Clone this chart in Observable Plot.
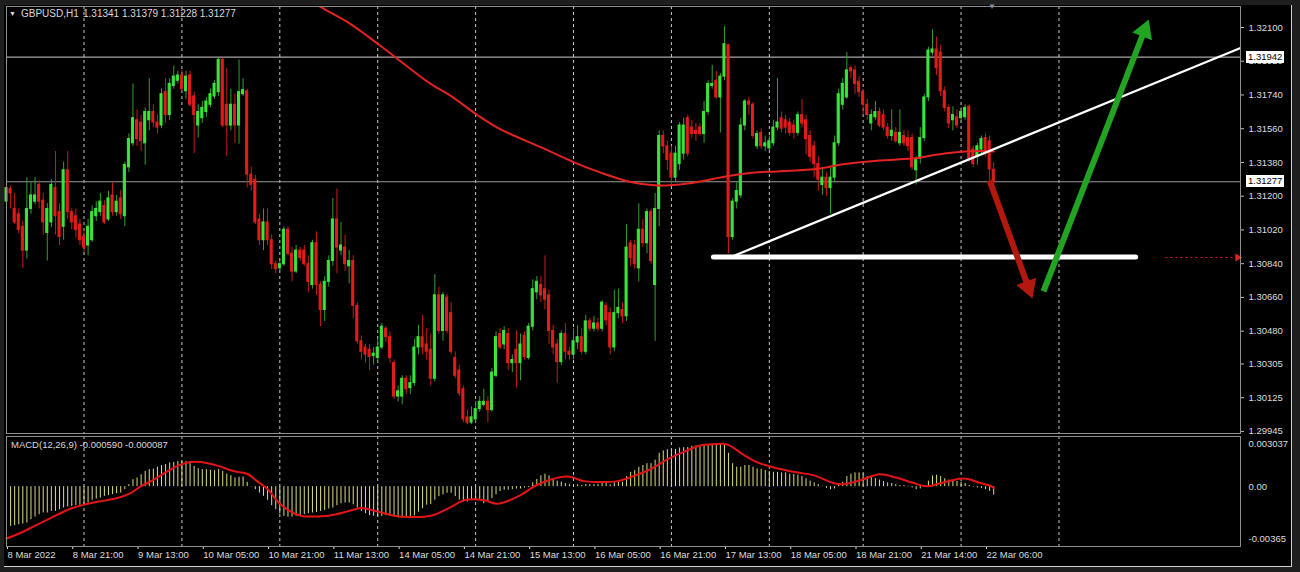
<!DOCTYPE html>
<html><head><meta charset="utf-8">
<script src="https://cdn.jsdelivr.net/npm/d3@7"></script>
<script src="https://cdn.jsdelivr.net/npm/@observablehq/plot@0.6"></script>
<style>
html,body{margin:0;padding:0;background:#1e1e1e;}
#wrap{position:relative;width:1300px;height:572px;background:#1e1e1e;overflow:hidden;font-family:"Liberation Sans",Arial,sans-serif;}
#bg{position:absolute;left:4px;top:5px;width:1287px;height:561px;background:#000;border-right:1px solid #cfcfcf;border-bottom:1px solid #cfcfcf;}
.svgbox{position:absolute;left:0;}
.lbl{position:absolute;color:#dadada;font-size:10px;white-space:pre;line-height:10px;}
.box{position:absolute;background:#fff;color:#000;font-size:9.5px;line-height:12px;height:12px;padding:0 2px;white-space:pre;}
</style></head>
<body>
<div id="wrap"><div id="bg"></div></div>
<script>
// ---------- DATA (GBPUSD H1, bars from 8 Mar 2022 05:00) ----------
const openP = [
1.31171,1.31238,1.31132,1.31104,1.31037,1.30910,1.31132,1.31171,1.31260,1.31176,
1.31004,1.31060,1.31243,1.31115,1.31037,1.31338,1.31115,1.31093,1.31049,1.30982,
1.30937,1.30965,1.31093,1.31115,1.31149,1.31076,1.31204,1.31115,1.31188,1.31093,
1.31354,1.31482,1.31605,1.31593,1.31482,1.31605,1.31649,1.31593,1.31577,1.31755,
1.31633,1.31788,1.31816,1.31844,1.31760,1.31844,1.31732,1.31577,1.31616,1.31649,
1.31688,1.31732,1.31755,1.31927,1.31688,1.31577,1.31688,1.31577,1.31744,1.31760,
1.31315,1.31288,1.31076,1.30965,1.31060,1.30965,1.30837,1.30815,1.30837,1.31021,
1.30893,1.30798,1.30910,1.30910,1.30837,1.30726,1.30949,1.30726,1.30593,1.30743,
1.30854,1.31076,1.30910,1.30926,1.30826,1.30854,1.30615,1.30426,1.30393,1.30381,
1.30348,1.30337,1.30393,1.30493,1.30448,1.30309,1.30131,1.30131,1.30226,1.30176,
1.30203,1.30393,1.30448,1.30409,1.30381,1.30226,1.30671,1.30481,1.30659,1.30576,
1.30337,1.30270,1.30170,1.30020,1.29992,1.30009,1.30064,1.30087,1.30103,1.30059,
1.30242,1.30465,1.30409,1.30465,1.30309,1.30381,1.30309,1.30454,1.30337,1.30504,
1.30687,1.30726,1.30704,1.30671,1.30481,1.30409,1.30315,1.30465,1.30370,1.30354,
1.30420,1.30448,1.30370,1.30532,1.30493,1.30521,1.30493,1.30615,1.30576,1.30393,
1.30576,1.30593,1.30559,1.30949,1.30937,1.30815,1.31021,1.30949,1.31115,1.30726,
1.31132,1.31521,1.31466,1.31427,1.31299,1.31371,1.31427,1.31616,1.31566,1.31549,
1.31566,1.31532,1.31649,1.31788,1.31816,1.31727,1.31838,1.32005,1.30982,1.31171,
1.31204,1.31577,1.31705,1.31688,1.31466,1.31538,1.31466,1.31455,1.31482,1.31566,
1.31616,1.31605,1.31593,1.31577,1.31538,1.31632,1.31605,1.31521,1.31466,1.31371,
1.31260,1.31299,1.31243,1.31299,1.31482,1.31688,1.31727,1.31883,1.31871,1.31810,
1.31755,1.31688,1.31588,1.31621,1.31649,1.31632,1.31566,1.31521,1.31538,1.31482,
1.31521,1.31510,1.31510,1.31338,1.31399,1.31510,1.31727,1.31966,1.31983,1.31966,
1.31760,1.31671,1.31605,1.31621,1.31616,1.31621,1.31677,1.31449,1.31410,1.31449,
1.31510,1.31493,1.31341];
const highP = [
1.31271,1.31254,1.31215,1.31132,1.31065,1.31299,1.31271,1.31299,1.31282,1.31215,
1.31160,1.31288,1.31438,1.31160,1.31382,1.31438,1.31132,1.31132,1.31076,1.31021,
1.31076,1.31149,1.31171,1.31215,1.31176,1.31227,1.31271,1.31204,1.31232,1.31382,
1.31532,1.31799,1.31660,1.31632,1.31671,1.31827,1.31688,1.31632,1.31772,1.31827,
1.31827,1.31894,1.31866,1.31871,1.31866,1.31866,1.31755,1.31688,1.31705,1.31727,
1.31772,1.31816,1.31938,1.31938,1.31883,1.31771,1.31744,1.31927,1.31827,1.31771,
1.31354,1.31310,1.31104,1.31132,1.31132,1.30993,1.30854,1.30854,1.31037,1.31037,
1.30926,1.30937,1.30926,1.30937,1.30882,1.30965,1.31010,1.30743,1.30771,1.30882,
1.31188,1.31238,1.31060,1.30993,1.30910,1.30882,1.30632,1.30454,1.30410,1.30410,
1.30393,1.30437,1.30521,1.30504,1.30476,1.30326,1.30187,1.30242,1.30242,1.30242,
1.30437,1.30510,1.30565,1.30493,1.30465,1.30782,1.30715,1.30687,1.30676,1.30632,
1.30370,1.30298,1.30187,1.30059,1.30076,1.30103,1.30131,1.30170,1.30131,1.30281,
1.30476,1.30493,1.30504,1.30493,1.30354,1.30481,1.30465,1.30476,1.30521,1.30754,
1.30771,1.30771,1.30882,1.30698,1.30510,1.30437,1.30481,1.30521,1.30393,1.30493,
1.30510,1.30493,1.30565,1.30548,1.30559,1.30548,1.30643,1.30632,1.30604,1.30698,
1.30704,1.30632,1.31049,1.30965,1.30965,1.31160,1.31076,1.31132,1.31132,1.31215,
1.31549,1.31549,1.31493,1.31466,1.31466,1.31593,1.31616,1.31632,1.31605,1.31588,
1.31588,1.31705,1.31816,1.31899,1.31866,1.31855,1.32105,1.32011,1.31188,1.31271,
1.31616,1.31716,1.31727,1.31699,1.31549,1.31560,1.31521,1.31521,1.31605,1.31827,
1.31649,1.31632,1.31616,1.31605,1.31649,1.31716,1.31632,1.31549,1.31493,1.31410,
1.31354,1.31327,1.31354,1.31521,1.31771,1.31827,1.31966,1.31894,1.31894,1.31838,
1.31771,1.31716,1.31660,1.31705,1.31671,1.31660,1.31588,1.31660,1.31566,1.31660,
1.31549,1.31549,1.31532,1.31410,1.31566,1.31744,1.31994,1.32088,1.32049,1.32005,
1.31783,1.31688,1.31677,1.31660,1.31671,1.31688,1.31688,1.31466,1.31482,1.31521,
1.31532,1.31521,1.31379];
const lowP = [
1.31160,1.31132,1.31049,1.30999,1.30815,1.30865,1.31104,1.31154,1.31132,1.30993,
1.30854,1.31032,1.30993,1.30937,1.30965,1.31076,1.31021,1.30976,1.30937,1.30898,
1.30882,1.30954,1.31065,1.31093,1.31049,1.31065,1.31093,1.31093,1.31076,1.31037,
1.31327,1.31466,1.31466,1.31438,1.31366,1.31549,1.31566,1.31532,1.31560,1.31588,
1.31605,1.31771,1.31799,1.31755,1.31716,1.31677,1.31427,1.31510,1.31588,1.31621,
1.31671,1.31716,1.31732,1.31566,1.31410,1.31549,1.31482,1.31477,1.31732,1.31243,
1.31227,1.31049,1.30937,1.30910,1.30937,1.30810,1.30787,1.30798,1.30826,1.30882,
1.30743,1.30787,1.30854,1.30826,1.30687,1.30704,1.30671,1.30504,1.30532,1.30715,
1.30826,1.30787,1.30882,1.30798,1.30732,1.30548,1.30410,1.30326,1.30309,1.30270,
1.30299,1.30309,1.30381,1.30420,1.30309,1.30115,1.30103,1.30087,1.30142,1.30142,
1.30187,1.30354,1.30354,1.30326,1.30187,1.30209,1.30465,1.30426,1.30465,1.30354,
1.30226,1.30131,1.29992,1.29981,1.29981,1.29992,1.30048,1.30076,1.29992,1.30048,
1.30231,1.30381,1.30381,1.30270,1.30259,1.30176,1.30215,1.30326,1.30326,1.30481,
1.30648,1.30632,1.30593,1.30409,1.30354,1.30203,1.30298,1.30326,1.30326,1.30326,
1.30381,1.30354,1.30354,1.30476,1.30476,1.30476,1.30476,1.30510,1.30354,1.30370,
1.30548,1.30521,1.30532,1.30826,1.30810,1.30743,1.30926,1.30893,1.30837,1.30426,
1.31037,1.31427,1.31338,1.31260,1.31271,1.31338,1.31393,1.31410,1.31510,1.31493,
1.31521,1.31482,1.31633,1.31771,1.31716,1.31538,1.31816,1.30893,1.30965,1.31132,
1.31188,1.31549,1.31633,1.31505,1.31449,1.31449,1.31438,1.31443,1.31466,1.31549,
1.31538,1.31532,1.31521,1.31505,1.31521,1.31566,1.31421,1.31382,1.31299,1.31227,
1.31204,1.31199,1.31104,1.31271,1.31466,1.31660,1.31716,1.31827,1.31744,1.31727,
1.31633,1.31605,1.31549,1.31605,1.31566,1.31549,1.31505,1.31493,1.31482,1.31466,
1.31466,1.31438,1.31338,1.31260,1.31371,1.31493,1.31705,1.31949,1.31844,1.31732,
1.31649,1.31560,1.31549,1.31560,1.31593,1.31605,1.31382,1.31354,1.31366,1.31427,
1.31410,1.31243,1.31228];
const closeP = [
1.31243,1.31215,1.31060,1.31021,1.30910,1.31132,1.31204,1.31204,1.31171,1.31060,
1.31132,1.31260,1.31093,1.30982,1.31338,1.31115,1.31060,1.31021,1.30965,1.30926,
1.31037,1.31115,1.31132,1.31171,1.31060,1.31188,1.31115,1.31171,1.31104,1.31366,
1.31505,1.31616,1.31505,1.31493,1.31649,1.31649,1.31593,1.31566,1.31744,1.31633,
1.31799,1.31838,1.31844,1.31771,1.31838,1.31688,1.31633,1.31649,1.31671,1.31705,
1.31744,1.31799,1.31927,1.31577,1.31577,1.31688,1.31577,1.31755,1.31766,1.31315,
1.31260,1.31060,1.30965,1.31060,1.30965,1.30837,1.30810,1.30837,1.31021,1.30893,
1.30798,1.30910,1.30871,1.30837,1.30743,1.30949,1.30726,1.30593,1.30743,1.30854,
1.31076,1.30926,1.30937,1.30837,1.30854,1.30615,1.30426,1.30370,1.30354,1.30342,
1.30360,1.30393,1.30504,1.30448,1.30337,1.30131,1.30159,1.30226,1.30170,1.30203,
1.30393,1.30448,1.30393,1.30370,1.30226,1.30671,1.30481,1.30671,1.30481,1.30370,
1.30242,1.30148,1.30009,1.29992,1.30020,1.30064,1.30103,1.30103,1.30059,1.30259,
1.30448,1.30393,1.30481,1.30309,1.30326,1.30309,1.30409,1.30342,1.30504,1.30704,
1.30743,1.30671,1.30648,1.30481,1.30393,1.30315,1.30465,1.30370,1.30354,1.30426,
1.30448,1.30370,1.30532,1.30493,1.30521,1.30493,1.30632,1.30537,1.30393,1.30576,
1.30604,1.30559,1.30926,1.30871,1.30837,1.31021,1.30949,1.31115,1.30854,1.31132,
1.31521,1.31466,1.31393,1.31299,1.31427,1.31577,1.31577,1.31427,1.31532,1.31532,
1.31532,1.31649,1.31799,1.31799,1.31727,1.31838,1.32011,1.30982,1.31171,1.31227,
1.31577,1.31705,1.31688,1.31521,1.31532,1.31466,1.31482,1.31493,1.31566,1.31593,
1.31560,1.31566,1.31538,1.31538,1.31632,1.31588,1.31505,1.31410,1.31371,1.31288,
1.31299,1.31243,1.31299,1.31482,1.31744,1.31799,1.31871,1.31866,1.31799,1.31755,
1.31688,1.31633,1.31633,1.31649,1.31577,1.31566,1.31521,1.31549,1.31493,1.31538,
1.31482,1.31466,1.31354,1.31399,1.31510,1.31727,1.31977,1.31983,1.31883,1.31760,
1.31671,1.31588,1.31633,1.31577,1.31649,1.31671,1.31399,1.31371,1.31466,1.31505,
1.31427,1.31343,1.31277];

// moving average (red) read at sample bars
const maBar = [73,77,84,91,95,104,109,115.5,121,131.5,139,145.5,153,159.5,167,177,183.5,189,199.5,205.5,214,222,230,238,242];
const maVal = [1.32271,1.32210,1.32123,1.32013,1.31947,1.31799,1.31734,1.31632,1.31558,1.31456,1.31382,1.31327,1.31276,1.31257,1.31268,1.31308,1.31327,1.31332,1.31348,1.31372,1.31391,1.31401,1.31428,1.31441,1.31439];

// MACD(12,26,9) main histogram, one value per bar
const macdHist = [
-0.00279,-0.00279,-0.00275,-0.00268,-0.00263,-0.00256,-0.00232,-0.00214,-0.00197,-0.00185,
-0.00185,-0.00174,-0.00174,-0.00162,-0.00150,-0.00143,-0.00139,-0.00134,-0.00131,-0.00127,
-0.00115,-0.00096,-0.00087,-0.00080,-0.00068,-0.00063,-0.00056,-0.00049,-0.00045,-0.00021,
0.00014,0.00049,0.00061,0.00084,0.00108,0.00120,0.00124,0.00138,0.00148,0.00155,
0.00167,0.00171,0.00176,0.00178,0.00176,0.00162,0.00143,0.00127,0.00120,0.00120,
0.00115,0.00113,0.00120,0.00108,0.00089,0.00077,0.00061,0.00066,0.00068,0.00031,
-0.00002,-0.00021,-0.00045,-0.00068,-0.00096,-0.00134,-0.00162,-0.00190,-0.00209,-0.00214,
-0.00214,-0.00209,-0.00204,-0.00197,-0.00190,-0.00185,-0.00181,-0.00174,-0.00167,-0.00157,
-0.00150,-0.00134,-0.00120,-0.00115,-0.00115,-0.00127,-0.00150,-0.00174,-0.00190,-0.00204,
-0.00209,-0.00214,-0.00209,-0.00204,-0.00209,-0.00214,-0.00221,-0.00221,-0.00221,-0.00217,
-0.00205,-0.00180,-0.00155,-0.00130,-0.00125,-0.00095,-0.00070,-0.00058,-0.00046,-0.00046,
-0.00070,-0.00095,-0.00108,-0.00108,-0.00095,-0.00095,-0.00095,-0.00120,-0.00108,-0.00083,
-0.00058,-0.00034,-0.00025,-0.00025,-0.00021,-0.00016,-0.00016,-0.00010,-0.00007,0.00027,
0.00051,0.00076,0.00088,0.00076,0.00056,0.00039,0.00032,0.00022,0.00013,0.00008,
0.00013,0.00008,0.00015,0.00015,0.00015,0.00017,0.00027,0.00022,0.00013,0.00027,
0.00032,0.00032,0.00071,0.00101,0.00113,0.00137,0.00149,0.00162,0.00162,0.00187,
0.00235,0.00252,0.00260,0.00260,0.00262,0.00272,0.00275,0.00275,0.00284,0.00286,
0.00286,0.00291,0.00296,0.00298,0.00298,0.00300,0.00304,0.00235,0.00162,0.00137,
0.00137,0.00149,0.00149,0.00137,0.00125,0.00122,0.00113,0.00106,0.00101,0.00101,
0.00097,0.00097,0.00088,0.00086,0.00081,0.00072,0.00056,0.00039,0.00027,0.00015,
0.00003,-0.00012,-0.00021,-0.00016,0.00008,0.00032,0.00071,0.00088,0.00097,0.00097,
0.00088,0.00071,0.00064,0.00056,0.00046,0.00037,0.00027,0.00022,0.00015,0.00008,
0.00008,0.00003,-0.00009,-0.00021,-0.00016,0.00008,0.00039,0.00076,0.00081,0.00071,
0.00056,0.00046,0.00039,0.00037,0.00032,0.00022,0.00008,-0.00003,-0.00009,-0.00014,
-0.00021,-0.00033,-0.00059];

// MACD signal line read at sample bars
const sigBar = [0,3.4,6.7,10.8,15.7,19,23,27.2,30.4,32.9,36.1,39.4,42.7,45.1,47.6,51.7,55.8,59.1,61.5,64,66.4,68.9,72.1,77,80.3,83.6,86.9,88.5,91.8,95,99.1,104,108.9,112.2,117.1,120.4,126.1,129.4,133.5,137.6,141.6,145.7,149.8,153.9,158,162.1,166.2,170.3,174.4,176.8,180.1,183.8,187.9,193.6,197.7,203.4,205.8,209.9,214,218.1,222.2,225.5,228.7,233.6,235.3,238.6,241.4,242];
const sigVal = [-0.00365,-0.00326,-0.00279,-0.00221,-0.00155,-0.00127,-0.00103,-0.00080,-0.00045,0.00002,0.00049,0.00108,0.00155,0.00174,0.00174,0.00148,0.00108,0.00089,0.00037,-0.00016,-0.00103,-0.00162,-0.00204,-0.00209,-0.00197,-0.00174,-0.00150,-0.00157,-0.00181,-0.00204,-0.00214,-0.00205,-0.00144,-0.00095,-0.00095,-0.00120,-0.00058,0.00003,0.00051,0.00071,0.00039,0.00032,0.00039,0.00076,0.00125,0.00194,0.00247,0.00291,0.00301,0.00296,0.00235,0.00174,0.00137,0.00101,0.00081,0.00020,0.00020,0.00051,0.00088,0.00064,0.00027,0.00003,0.00022,0.00056,0.00056,0.00027,0.00003,-0.000087];

// axis ticks and labels
const priceTicks = [1.32100,1.31920,1.31740,1.31560,1.31380,1.31200,1.31020,1.30840,1.30660,1.30480,1.30305,1.30125,1.29945];
const macdTicks = [0.003037, 0, -0.00365];
const macdTickText = ["0.003037", "0.00", "-0.00365"];
const timeBars = [0,16,32,48,64,80,96,112,128,144,160,176,192,208,224,240];
const timeLabels = ["8 Mar 2022","8 Mar 21:00","9 Mar 13:00","10 Mar 05:00","10 Mar 21:00","11 Mar 13:00","14 Mar 05:00","14 Mar 21:00","15 Mar 13:00","16 Mar 05:00","16 Mar 21:00","17 Mar 13:00","18 Mar 05:00","18 Mar 21:00","21 Mar 14:00","22 Mar 06:00"];
const dayBars = [19,43,67,91,115,139,163,187,210,234,258];

// price levels and drawn objects
const levelHigh = 1.31942;
const levelLast = 1.31277;
const trendBars = [178.2, 302.5], trendPrices = [1.30881, 1.31991];
const supportBars = [173.3, 276.8], supportPrice = 1.30876;
const dottedBars = [284.1, 301.2], dottedPrice = 1.30873;
const redArrowBars = [241.0, 251.5], redArrowPrices = [1.31284, 1.30654];
const greenArrowBars = [254.2, 280.0], greenArrowPrices = [1.30692, 1.32143];

// ---------- BUILD ----------
const bars = openP.map((o, i) => ({i, o, h: highP[i], l: lowP[i], c: closeP[i]}));
const up = bars.filter(d => d.c >= d.o);
const dn = bars.filter(d => d.c < d.o);
const ma = maBar.map((b, k) => ({b, v: maVal[k]}));
const hist = macdHist.map((v, i) => ({i, v}));
const sig = sigBar.map((b, k) => ({b, v: sigVal[k]}));
const xDomain = [0, 302.5];
const yDomain = [1.29934, 1.32212];
const font = '"Liberation Sans", Arial, sans-serif';
const gridStyle = {stroke: "#c8c8c8", strokeDasharray: "3,3", strokeWidth: 1};

// standalone copies of the main panel's scales, used to orient the arrow heads
const sx = Plot.scale({x: {domain: xDomain, range: [6, 1240]}});
const sy = Plot.scale({y: {domain: yDomain, range: [433, 6]}});
function arrowMarks(bs, ps, color) {
  const px1 = sx.apply(bs[0]), py1 = sy.apply(ps[0]);
  const px2 = sx.apply(bs[1]), py2 = sy.apply(ps[1]);
  const len = Math.hypot(px2 - px1, py2 - py1);
  const ux = (px2 - px1) / len, uy = (py2 - py1) / len;
  const side = 21;                        // triangle side, px
  const cOff = side / Math.sqrt(3);       // tip to centroid
  const shaftEndB = sx.invert(px2 - ux * cOff * 1.2);
  const shaftEndP = sy.invert(py2 - uy * cOff * 1.2);
  const angle = Math.atan2(ux, -uy) * 180 / Math.PI;
  const r = Math.sqrt((Math.sqrt(3) / 4) * side * side / Math.PI);
  return [
    Plot.link([0], {x1: () => bs[0], y1: () => ps[0], x2: () => shaftEndB, y2: () => shaftEndP, stroke: color, strokeWidth: 6}),
    Plot.dot([0], {x: () => bs[1], y: () => ps[1], dx: -ux * cOff, dy: -uy * cOff, symbol: "triangle", rotate: angle, r, fill: color, stroke: "none"})
  ];
}

const main = Plot.plot({
  width: 1300, height: 434,
  marginLeft: 6, marginRight: 60, marginTop: 6, marginBottom: 1,
  style: {background: "transparent", color: "#dcdcdc", fontFamily: font, fontSize: "9.5px", overflow: "visible"},
  x: {domain: xDomain, axis: null, label: null},
  y: {domain: yDomain, label: null, axis: null},
  marks: [
    Plot.ruleX(dayBars, gridStyle),
    Plot.ruleY([levelHigh], {stroke: "#d0d0d0", strokeWidth: 1}),
    Plot.ruleY([levelLast], {stroke: "#9a9a9a", strokeWidth: 1}),
    Plot.ruleX(up, {x: "i", y1: "l", y2: "h", stroke: "#2fa02f", strokeWidth: 1}),
    Plot.ruleX(dn, {x: "i", y1: "l", y2: "h", stroke: "#c81a1a", strokeWidth: 1}),
    Plot.rect(up, {x1: d => d.i - 0.25, x2: d => d.i + 0.25, y1: "o", y2: "c", fill: "#3be63b", stroke: "#3be63b", strokeWidth: 1}),
    Plot.rect(dn, {x1: d => d.i - 0.25, x2: d => d.i + 0.25, y1: "o", y2: "c", fill: "#e41c1c", stroke: "#e41c1c", strokeWidth: 1}),
    Plot.line(ma, {x: "b", y: "v", stroke: "#e32222", strokeWidth: 2, curve: "catmull-rom", clip: true}),
    Plot.link([0], {x1: () => supportBars[0], x2: () => supportBars[1], y1: () => supportPrice, y2: () => supportPrice, stroke: "#ffffff", strokeWidth: 5, strokeLinecap: "round"}),
    Plot.link([0], {x1: () => trendBars[0], x2: () => trendBars[1], y1: () => trendPrices[0], y2: () => trendPrices[1], stroke: "#ffffff", strokeWidth: 2.2}),
    Plot.link([0], {x1: () => dottedBars[0], x2: () => dottedBars[1], y1: () => dottedPrice, y2: () => dottedPrice, stroke: "#e02020", strokeWidth: 1, strokeDasharray: "2,3"}),
    Plot.dot([0], {x: () => dottedBars[1] + 0.6, y: () => dottedPrice, symbol: "triangle", rotate: 90, r: 3, fill: "#e02020", stroke: "none"}),
    ...arrowMarks(redArrowBars, redArrowPrices, "#b3180e"),
    ...arrowMarks(greenArrowBars, greenArrowPrices, "#22a322"),
    Plot.axisY({anchor: "right", ticks: priceTicks, tickFormat: d => d.toFixed(5), tickSize: 3, tickPadding: 5, stroke: "#bdbdbd"}),
    Plot.frame({stroke: "#8e8e8e"})
  ]
});
main.classList.add("svgbox");
main.style.top = "0px";

const tickMap = new Map(macdTicks.map((t, k) => [t, macdTickText[k]]));
const labelMap = new Map(timeBars.map((b, k) => [b, timeLabels[k]]));
const macd = Plot.plot({
  width: 1300, height: 138,
  marginLeft: 6, marginRight: 60, marginTop: 2, marginBottom: 26,
  style: {background: "transparent", color: "#dcdcdc", fontFamily: font, fontSize: "9.5px", overflow: "visible"},
  x: {domain: xDomain, label: null},
  y: {domain: [-0.00421, 0.00353], label: null, axis: null},
  marks: [
    Plot.ruleX(dayBars, gridStyle),
    Plot.ruleX(hist, {x: "i", y1: 0, y2: "v", stroke: "#dcdc82", strokeWidth: 1}),
    Plot.line(sig, {x: "b", y: "v", stroke: "#e31414", strokeWidth: 2, curve: "catmull-rom"}),
    Plot.axisY({anchor: "right", ticks: macdTicks, tickFormat: d => tickMap.get(d), tickSize: 0, tickPadding: 8}),
    Plot.axisX({anchor: "bottom", ticks: timeBars, tickFormat: d => labelMap.get(d), tickSize: 3, tickPadding: 2, textAnchor: "start", dx: 1}),
    Plot.frame({stroke: "#8e8e8e"})
  ]
});
macd.classList.add("svgbox");
macd.style.top = "434px";

const wrap = document.getElementById("wrap");
wrap.appendChild(main);
wrap.appendChild(macd);

function addDiv(cls, text, left, top, extra) {
  const d = document.createElement("div");
  d.className = cls; d.textContent = text;
  d.style.left = left + "px"; d.style.top = top + "px";
  if (extra) Object.assign(d.style, extra);
  wrap.appendChild(d);
  return d;
}
// header
addDiv("lbl", "\u25BC", 9, 9, {fontSize: "7px"});
addDiv("lbl", "GBPUSD,H1", 21, 9);
addDiv("lbl", "1.31341 1.31379 1.31228 1.31277", 83, 9);
addDiv("lbl", "MACD(12,26,9) -0.000590 -0.000087", 11, 440, {fontSize: "9.5px"});
addDiv("lbl", "\u25BC", 988, 2, {fontSize: "8px", color: "#7f8fa3"});
// price boxes placed through the y scale
const ys = main.scale("y");
addDiv("box", levelHigh.toFixed(5), 1246, Math.round(ys.apply(levelHigh)) - 6);
addDiv("box", levelLast.toFixed(5), 1246, Math.round(ys.apply(levelLast)) - 6);
</script>
</body></html>
